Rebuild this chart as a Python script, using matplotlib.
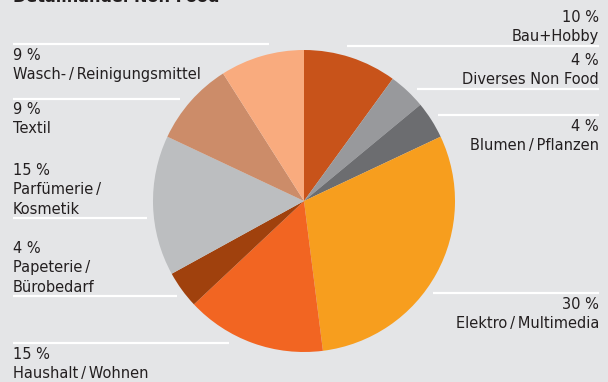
import matplotlib.pyplot as plt

# shares of the non-food retail segment, clockwise from 12 o'clock
categories = ["Bau+Hobby", "Diverses Non Food", "Blumen/Pflanzen", "Elektro/Multimedia",
              "Haushalt/Wohnen", "Papeterie/\nBürobedarf", "Parfümerie/\nKosmetik",
              "Textil", "Wasch-/Reinigungsmittel"]
shares = [10, 4, 4, 30, 15, 4, 15, 9, 9]
colors = ["#C8531A", "#98999C", "#6C6D70", "#F79E1E", "#F26522",
          "#A0410D", "#BCBEC0", "#CC8C69", "#F9AB7E"]

BG = "#E4E5E7"
INK = "#231F20"
H = 382

fig = plt.figure(figsize=(6.08, 3.82), dpi=100, facecolor=BG)
ax = fig.add_axes([0, 0, 1, 1])
ax.set_facecolor(BG)

ax.pie(shares, colors=colors, startangle=90, counterclock=False,
       center=(304, H - 201), radius=151,
       wedgeprops=dict(linewidth=0), frame=True)
ax.set_xlim(0, 608)
ax.set_ylim(0, H)
ax.set_aspect("equal")
ax.axis("off")

# white separator rules (x0, x1, y in pixels from top)
rules = [(13, 269, 44), (13, 180, 99), (13, 147, 218), (13, 177, 296), (13, 229, 343),
         (347, 599, 46), (417, 599, 89), (438, 599, 115), (433, 599, 293)]
for x0, x1, y in rules:
    ax.plot([x0, x1], [H - y, H - y], color="white", lw=1.6, solid_capstyle="butt")


def label(i):
    name = categories[i].replace("/", "\u2009/\u2009").replace("\u2009\n", "\n")
    return f"{shares[i]} %\n{name}"


fs = 10.5
ls = 1.37
# (category index, top of label block in pixels)
left = [(8, 48), (7, 102), (6, 163), (5, 241), (4, 347)]
right = [(0, 10), (1, 53), (2, 119), (3, 297)]
for i, ytop in left:
    ax.text(13, H - ytop, label(i), ha="left", va="top",
            fontsize=fs, color=INK, linespacing=ls)
for i, ytop in right:
    ax.text(599, H - ytop, label(i), ha="right", va="top",
            fontsize=fs, color=INK, linespacing=ls, multialignment="right")

# heading, mostly cropped by the top edge
ax.text(13, H - 1.5, "Detailhandel Non Food", ha="left", va="baseline",
        fontsize=11.5, fontweight="bold", color=INK)

fig.savefig("out.png", dpi=100, facecolor=BG)
